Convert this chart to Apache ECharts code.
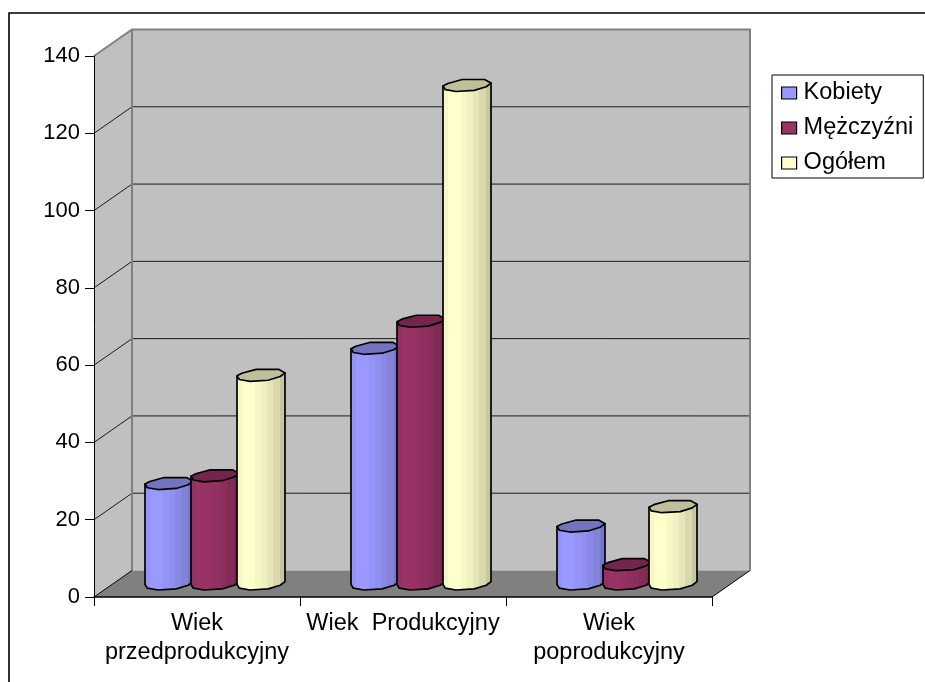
<!DOCTYPE html>
<html>
<head>
<meta charset="utf-8">
<style>html,body{margin:0;padding:0;background:#fff}#c{width:925px;height:682px}</style>
<script src="https://cdn.jsdelivr.net/npm/echarts@6/dist/echarts.min.js"></script>
</head>
<body>
<div id="c"></div>
<script>
var categories = ['Wiek\nprzedprodukcyjny', 'Wiek  Produkcyjny', 'Wiek\npoprodukcyjny'];
var kobiety = [26, 61, 15];
var mezczyzni = [28, 68, 5];
var ogolem = [54, 129, 20];
var yTicks = [0, 20, 40, 60, 80, 100, 120, 140];

var FONT = '"Liberation Sans", Arial, sans-serif';
var DEPTH_X = 38, DEPTH_Y = -26.5;
var BAR_DX = 18, BAR_DY = -13, STEP = 46, BAR_W = 48, CAP_H = 12;
var BANDS = [0.97, 1, 1, 0.97, 0.94, 0.9, 0.85, 0.78];
var RIM = [[-.5,.045],[-.4,-.17],[-.1,-.5],[.367,-.5],[.5,-.2],[.4,.1],[.15,.41],[-.23,.5],[-.45,.35]];
var LOWER = [[-.45,.35],[-.23,.5],[.15,.41],[.4,.1]];

function shade(rgb, f) { return 'rgb(' + rgb.map(function (c) { return Math.round(c * f); }).join(',') + ')'; }
function bandGradient(rgb) {
  var stops = [];
  BANDS.forEach(function (f, i) {
    var c = shade(rgb, f);
    stops.push({ offset: i / BANDS.length, color: c });
    stops.push({ offset: (i + 1) / BANDS.length, color: c });
  });
  return { type: 'linear', x: 0, y: 0, x2: 1, y2: 0, colorStops: stops };
}
function cylinder(rgb, slot) {
  return function (params, api) {
    var top = api.coord([api.value(0), api.value(1)]);
    var base = api.coord([api.value(0), 0]);
    var cx = top[0] + BAR_DX + slot * STEP;
    var ty = top[1] + BAR_DY, by = base[1] + BAR_DY;
    var body = [[cx - BAR_W / 2, ty + RIM[0][1] * CAP_H], [cx - BAR_W / 2, by + RIM[0][1] * CAP_H]];
    LOWER.forEach(function (p) { body.push([cx + p[0] * BAR_W, by + p[1] * CAP_H]); });
    body.push([cx + BAR_W / 2, by + RIM[4][1] * CAP_H], [cx + BAR_W / 2, ty + RIM[4][1] * CAP_H]);
    var cap = RIM.map(function (p) { return [cx + p[0] * BAR_W, ty + p[1] * CAP_H]; });
    return {
      type: 'group',
      children: [
        { type: 'polygon', shape: { points: body }, style: { fill: bandGradient(rgb), stroke: '#000', lineWidth: 1.7, lineJoin: 'round' } },
        { type: 'polygon', shape: { points: cap }, style: { fill: shade(rgb, 0.75), stroke: '#000', lineWidth: 1.7, lineJoin: 'round' } }
      ]
    };
  };
}
function walls(params, api) {
  var a = api.coord([0, 0]), band = api.size([1, 0])[0];
  var x0 = a[0] - band / 2, x1 = x0 + band * categories.length;
  var y0 = a[1], y1 = api.coord([0, yTicks[yTicks.length - 1]])[1];
  var dx = DEPTH_X, dy = DEPTH_Y;
  var kids = [
    { type: 'polygon', shape: { points: [[x0 + dx, y1 + dy], [x1 + dx, y1 + dy], [x1 + dx, y0 + dy], [x0 + dx, y0 + dy]] }, style: { fill: '#c0c0c0' } },
    { type: 'polygon', shape: { points: [[x0, y1], [x0 + dx, y1 + dy], [x0 + dx, y0 + dy], [x0, y0]] }, style: { fill: '#c0c0c0' } },
    { type: 'polygon', shape: { points: [[x0, y0], [x0 + dx, y0 + dy], [x1 + dx, y0 + dy], [x1, y0]] }, style: { fill: '#808080' } }
  ];
  yTicks.forEach(function (v, i) {
    if (i === 0 || i === yTicks.length - 1) return;
    var y = api.coord([0, v])[1];
    kids.push({ type: 'polyline', shape: { points: [[x0, y], [x0 + dx, y + dy], [x1 + dx, y + dy]] }, style: { fill: null, stroke: '#1a1a1a', lineWidth: 1 } });
  });
  var gray = { fill: null, stroke: '#808080', lineWidth: 2 };
  kids.push({ type: 'polyline', shape: { points: [[x0, y1], [x0 + dx, y1 + dy], [x1 + dx, y1 + dy], [x1 + dx, y0 + dy]] }, style: gray });
  kids.push({ type: 'polyline', shape: { points: [[x0 + dx, y1 + dy], [x0 + dx, y0 + dy]] }, style: gray });
  kids.push({ type: 'polyline', shape: { points: [[x0, y0], [x0 + dx, y0 + dy]] }, style: { fill: null, stroke: '#000', lineWidth: 1 } });
  kids.push({ type: 'polyline', shape: { points: [[x1, y0], [x1 + dx, y0 + dy]] }, style: { fill: null, stroke: '#000', lineWidth: 1 } });
  return { type: 'group', children: kids };
}
function rows(arr) { return arr.map(function (v, i) { return [i, v]; }); }
function barSeries(name, arr, rgb, slot) {
  return {
    name: name, type: 'custom', z: 3, data: rows(arr), encode: { x: 0, y: 1 },
    itemStyle: { color: shade(rgb, 1) },
    renderItem: cylinder(rgb, slot), silent: true
  };
}
var chart = echarts.init(document.getElementById('c'), null, { renderer: 'canvas' });
chart.setOption({
  animation: false,
  backgroundColor: '#fff',
  textStyle: { fontFamily: FONT },
  grid: { left: 94, top: 56, width: 618, height: 541, containLabel: false },
  xAxis: {
    type: 'category', data: categories, z: 2,
    axisLine: { show: true, lineStyle: { color: '#000', width: 1.5 } },
    axisTick: { show: true, alignWithLabel: false, length: 9, lineStyle: { color: '#000', width: 1 } },
    axisLabel: { color: '#000', fontFamily: FONT, fontSize: 23.5, lineHeight: 29, margin: 12, interval: 0 }
  },
  yAxis: {
    type: 'value', min: 0, max: 140, interval: 20, z: 2,
    axisLine: { show: true, lineStyle: { color: '#000', width: 1 } },
    axisTick: { show: true, length: 9, lineStyle: { color: '#000', width: 1 } },
    axisLabel: { color: '#000', fontFamily: FONT, fontSize: 22, margin: 14, padding: [4, 0, 0, 0] },
    splitLine: { show: false }
  },
  legend: {
    orient: 'vertical', left: 772, top: 75, padding: [6, 10, 3, 9], itemGap: 11,
    itemWidth: 15, itemHeight: 12, itemStyle: { borderColor: '#000', borderWidth: 1.2 },
    backgroundColor: '#fff', borderColor: '#000', borderWidth: 1, icon: 'rect', selectedMode: false,
    textStyle: { color: '#000', fontFamily: FONT, fontSize: 23.5, padding: [0, 0, 0, 2] },
    data: ['Kobiety', 'Mężczyźni', 'Ogółem']
  },
  graphic: [
    { type: 'polyline', silent: true, shape: { points: [[9, 682], [9, 13], [925, 13]] }, style: { fill: null, stroke: '#000', lineWidth: 1.6 } }
  ],
  series: [
    { type: 'custom', z: 1, silent: true, data: [[0, 0]], encode: { x: 0, y: 1 }, renderItem: walls },
    barSeries('Kobiety', kobiety, [153, 153, 255], -1),
    barSeries('Mężczyźni', mezczyzni, [153, 51, 102], 0),
    barSeries('Ogółem', ogolem, [255, 255, 204], 1)
  ]
});
</script>
</body>
</html>
